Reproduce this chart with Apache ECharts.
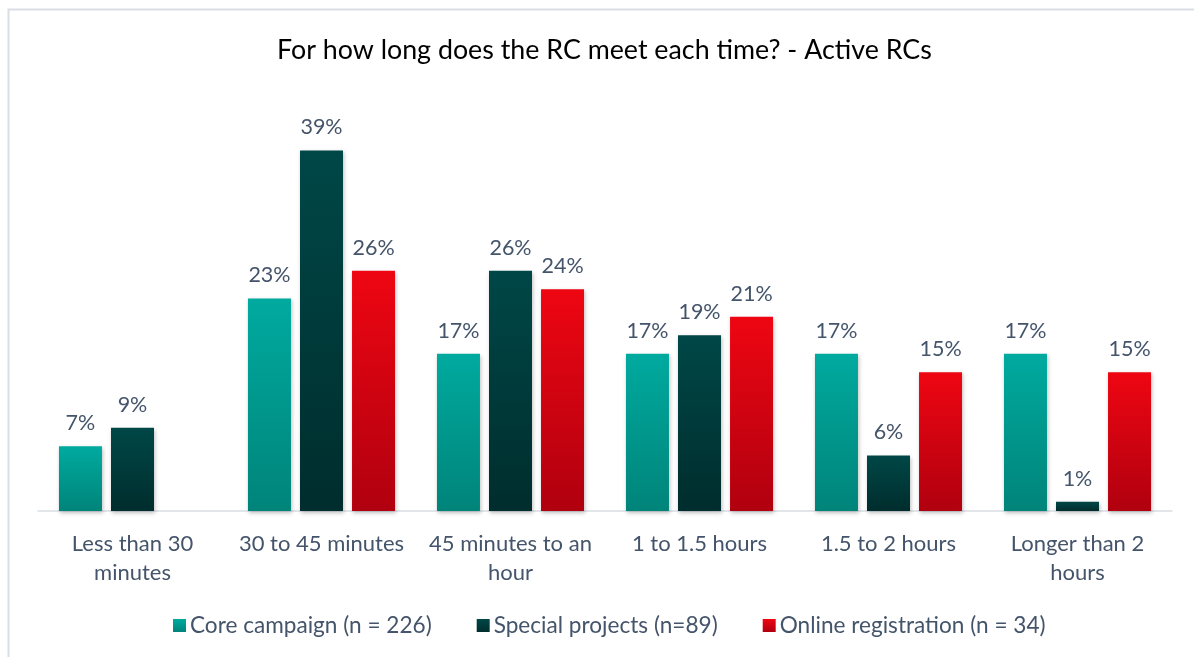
<!DOCTYPE html>
<html>
<head>
<meta charset="utf-8">
<script src="https://cdn.jsdelivr.net/npm/echarts@6/dist/echarts.min.js"></script>
<style>
  html,body{margin:0;padding:0;background:#fff;}
  #main{width:1194px;height:657px;}
</style>
</head>
<body>
<div id="main"></div>
<script>
const categories=['Less than 30\nminutes','30 to 45 minutes','45 minutes to an\nhour','1 to 1.5 hours','1.5 to 2 hours','Longer than 2\nhours']
const coreCampaign=[7,23,17,17,17,17]
const specialProjects=[9,39,26,19,6,1]
const onlineRegistration=[null,26,24,21,15,15]
const seriesNames=['Core campaign (n = 226)','Special projects (n=89)','Online registration (n = 34)']

const font='Lato'
const textColor='#44546A'

function grad(top,bottom){
  return new echarts.graphic.LinearGradient(0,0,0,1,[
    {offset:0,color:top},
    {offset:1,color:bottom}
  ])
}

function makeSeries(name,data,top,bottom){
  return {
    name:name,
    type:'bar',
    data:data,
    barWidth:43,
    barGap:'21%',
    itemStyle:{
      color:grad(top,bottom),
      shadowColor:'rgba(0,0,0,0.25)',
      shadowBlur:4,
      shadowOffsetX:1,
      shadowOffsetY:2
    },
    label:{
      show:true,
      position:'top',
      distance:12,
      formatter:'{c}%',
      fontFamily:font,
      fontSize:21.5,
      color:textColor
    }
  }
}

const myChart=echarts.init(document.querySelector('#main'))
const option={
  animation:false,
  graphic:[{
    type:'rect',
    shape:{x:8.5,y:9.5,width:1200,height:660},
    style:{fill:'none',stroke:'#D9DEE5',lineWidth:2},
    silent:true
  }],
  title:{
    text:'For how long does the RC meet each time? - Active RCs',
    left:272,
    top:32,
    textStyle:{fontFamily:font,fontSize:26.8,fontWeight:'normal',color:'#000'}
  },
  legend:{
    bottom:15,
    left:168,
    itemWidth:13,
    itemHeight:13,
    itemGap:45,
    icon:'rect',
    textStyle:{fontFamily:font,fontSize:22.6,color:textColor,padding:[0,0,0,-1]},
    data:seriesNames
  },
  grid:{left:38,right:22,top:95,bottom:146},
  xAxis:{
    type:'category',
    data:categories,
    axisLine:{lineStyle:{color:'#D9DEE5',width:1.5}},
    axisTick:{show:false},
    axisLabel:{
      fontFamily:font,
      fontSize:22,
      color:textColor,
      lineHeight:29,
      margin:18,
      interval:0
    }
  },
  yAxis:{
    type:'value',
    min:0,
    max:45,
    show:false,
    splitLine:{show:false}
  },
  series:[
    makeSeries(seriesNames[0],coreCampaign,'#00AA9F','#00847A'),
    makeSeries(seriesNames[1],specialProjects,'#004747','#002D2D'),
    makeSeries(seriesNames[2],onlineRegistration,'#EE0612','#B0000F')
  ]
}
myChart.setOption(option)
</script>
</body>
</html>
